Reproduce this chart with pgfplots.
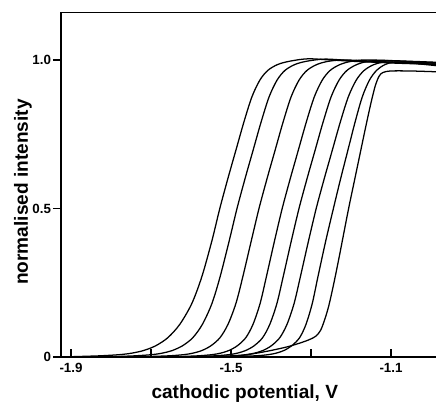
\documentclass[border=0pt]{standalone}
\usepackage{fontspec}
\setmainfont{Liberation Sans}
\usepackage{pgfplots}
\pgfplotsset{compat=1.18}

\begin{document}
\begin{tikzpicture}
\begin{axis}[
  scale only axis,
  width=281.25pt, height=258.75pt,
  xmin=-1.925, xmax=-0.9875,
  ymin=0, ymax=1.1616,
  axis x line=bottom, axis y line=left,
  axis line style={-, line width=0.9pt},
  tick align=inside,
  major tick length=6pt,
  tick style={line width=0.9pt, black},
  y tick style={xshift=-6pt},
  xtick={-1.9,-1.7,-1.5,-1.3,-1.1},
  xticklabels={-1.9,,-1.5,,-1.1},
  ytick={0,0.5,1},
  yticklabels={0,0.5,1.0},
  /pgf/number format/assume math mode=true,
  ticklabel style={font=\fontsize{10}{12}\selectfont\bfseries},
  yticklabel style={xshift=-4pt},
  xticklabel style={yshift=-1pt},
  label style={font=\fontsize{14.3}{16}\selectfont\bfseries},
  xlabel={cathodic potential, V},
  ylabel={normalised intensity},
  xlabel style={at={(axis description cs:0.49,-0.1217)}, anchor=base},
  ylabel style={at={(axis description cs:-0.1013,0.478)}, anchor=center},
  curve/.style={black, solid, line width=0.95pt, smooth, mark=none},
]
\draw[line width=0.9pt] (rel axis cs:0,1) -- (rel axis cs:1,1);

% curve 1
\addplot[curve] coordinates {(-1.90,0.001) (-1.828,0.004) (-1.778,0.008) (-1.748,0.013) (-1.718,0.022) (-1.688,0.038) (-1.658,0.065) (-1.628,0.11) (-1.598,0.18) (-1.573,0.27) (-1.548,0.39) (-1.528,0.5) (-1.508,0.6) (-1.488,0.695) (-1.468,0.79) (-1.448,0.875) (-1.428,0.932) (-1.408,0.965) (-1.383,0.985) (-1.353,0.996) (-1.308,1.004) (-1.25,1.0) (-1.15,0.993) (-0.98,0.99)};
% curve 2
\addplot[curve] coordinates {(-1.80,0.001) (-1.74,0.004) (-1.6975,0.008) (-1.672,0.013) (-1.6465,0.022) (-1.621,0.038) (-1.5955,0.065) (-1.5715,0.11) (-1.5477,0.18) (-1.5273,0.27) (-1.5047,0.39) (-1.485,0.5) (-1.465,0.6) (-1.445,0.695) (-1.425,0.79) (-1.405,0.875) (-1.385,0.932) (-1.365,0.965) (-1.34,0.985) (-1.31,0.996) (-1.265,1.003) (-1.20,0.998) (-1.10,0.99) (-0.98,0.985)};
% curve 3
\addplot[curve] coordinates {(-1.72,0.001) (-1.655,0.004) (-1.6175,0.008) (-1.595,0.013) (-1.5725,0.022) (-1.55,0.038) (-1.5275,0.065) (-1.5075,0.11) (-1.4878,0.18) (-1.4705,0.27) (-1.4495,0.39) (-1.43,0.5) (-1.41,0.6) (-1.39,0.695) (-1.37,0.79) (-1.35,0.875) (-1.33,0.932) (-1.31,0.965) (-1.285,0.985) (-1.255,0.996) (-1.21,1.0) (-1.10,0.993) (-0.98,0.99)};
% curve 4
\addplot[curve] coordinates {(-1.64,0.001) (-1.582,0.004) (-1.547,0.008) (-1.526,0.013) (-1.505,0.022) (-1.484,0.038) (-1.463,0.065) (-1.445,0.11) (-1.4273,0.18) (-1.4116,0.27) (-1.3914,0.39) (-1.372,0.5) (-1.352,0.6) (-1.332,0.695) (-1.312,0.79) (-1.292,0.875) (-1.272,0.932) (-1.252,0.965) (-1.227,0.985) (-1.197,0.996) (-1.15,1.0) (-0.98,0.992)};
% curve 5
\addplot[curve] coordinates {(-1.60,0.001) (-1.54,0.004) (-1.505,0.008) (-1.484,0.013) (-1.463,0.022) (-1.442,0.038) (-1.421,0.065) (-1.403,0.11) (-1.3853,0.18) (-1.3696,0.27) (-1.3494,0.39) (-1.33,0.5) (-1.31,0.6) (-1.29,0.695) (-1.27,0.79) (-1.25,0.875) (-1.23,0.932) (-1.21,0.965) (-1.185,0.985) (-1.155,0.996) (-1.11,0.998) (-0.98,0.99)};
% curve 6
\addplot[curve] coordinates {(-1.56,0.001) (-1.497,0.004) (-1.462,0.008) (-1.441,0.013) (-1.42,0.022) (-1.399,0.038) (-1.378,0.065) (-1.36,0.11) (-1.3423,0.18) (-1.3266,0.27) (-1.3064,0.39) (-1.287,0.5) (-1.267,0.6) (-1.247,0.695) (-1.227,0.79) (-1.207,0.875) (-1.187,0.932) (-1.167,0.965) (-1.142,0.985) (-1.112,0.993) (-1.05,0.99) (-0.98,0.985)};
% curve 7
\addplot[curve] coordinates {(-1.52,0.001) (-1.439,0.004) (-1.4065,0.008) (-1.387,0.013) (-1.3675,0.022) (-1.348,0.038) (-1.3285,0.065) (-1.3125,0.11) (-1.2969,0.18) (-1.2827,0.27) (-1.2633,0.39) (-1.244,0.5) (-1.226,0.6) (-1.208,0.695) (-1.19,0.79) (-1.172,0.875) (-1.154,0.932) (-1.136,0.965) (-1.114,0.985) (-1.084,0.993) (-0.98,0.98)};
% curve 8
\addplot[curve] coordinates {(-1.52,0.001) (-1.48,0.004) (-1.44,0.012) (-1.40,0.022) (-1.36,0.034) (-1.33,0.046) (-1.305,0.058) (-1.288,0.07) (-1.276,0.09) (-1.266,0.125) (-1.256,0.17) (-1.245,0.235) (-1.232,0.32) (-1.219,0.41) (-1.206,0.5) (-1.192,0.59) (-1.178,0.68) (-1.164,0.77) (-1.151,0.85) (-1.14,0.91) (-1.13,0.945) (-1.12,0.958) (-1.10,0.963) (-1.05,0.963) (-0.98,0.96)};
\end{axis}
\pgfresetboundingbox
\path ([shift={(-45.75pt,-33pt)}]current axis.south west) rectangle ([shift={(0pt,9pt)}]current axis.north east);
\end{tikzpicture}
\end{document}
